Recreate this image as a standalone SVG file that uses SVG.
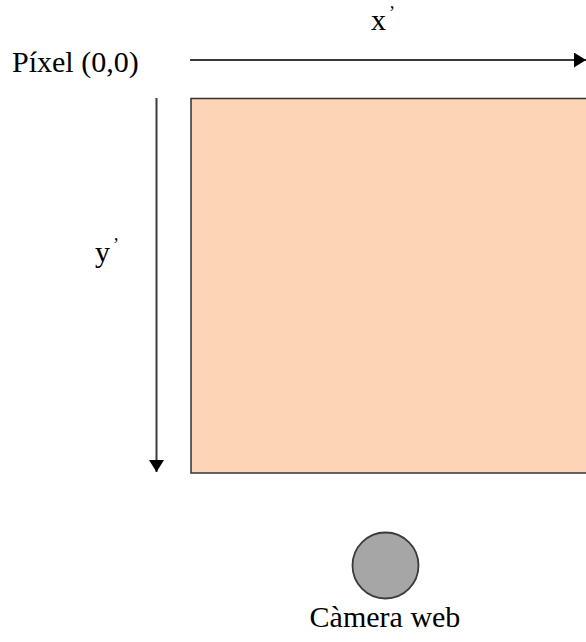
<svg xmlns="http://www.w3.org/2000/svg" width="586" height="642" viewBox="0 0 586 642">
<style>
text{font-family:'Liberation Serif','Times New Roman',serif;font-size:30px;fill:#000}
.ax{stroke:#3a3a3a;stroke-width:2;fill:none}
</style>
<defs>
<marker id="ah" viewBox="0 0 12 15" refX="12" refY="7.5" markerUnits="userSpaceOnUse" markerWidth="12" markerHeight="15" orient="auto">
<path d="M0,0 L12,7.5 L0,15 Z" fill="#000"/>
</marker>
</defs>
<rect width="586" height="642" fill="#fff"/>
<g id="image">
<rect x="191" y="98.5" width="400" height="374.5" fill="#FBD5B5" stroke="#333" stroke-width="1.5"/>
</g>
<g id="camera">
<circle cx="385.5" cy="565.5" r="33" fill="#A6A6A6" stroke="#3a3a3a" stroke-width="1.8"/>
<text x="385" y="627" text-anchor="middle">Càmera web</text>
</g>
<g id="origin">
<text x="12" y="72">Píxel (0,0)</text>
</g>
<g id="connectors">
<line class="ax" x1="190" y1="60" x2="586" y2="60" marker-end="url(#ah)"/>
<line class="ax" x1="156.5" y1="98" x2="156.5" y2="472" marker-end="url(#ah)"/>
</g>
<g id="labels">
<text x="371" y="30">x<tspan dx="3" dy="-11" font-size="18">’</tspan></text>
<text x="95" y="262">y<tspan dx="3" dy="-11" font-size="18">’</tspan></text>
</g>
</svg>
